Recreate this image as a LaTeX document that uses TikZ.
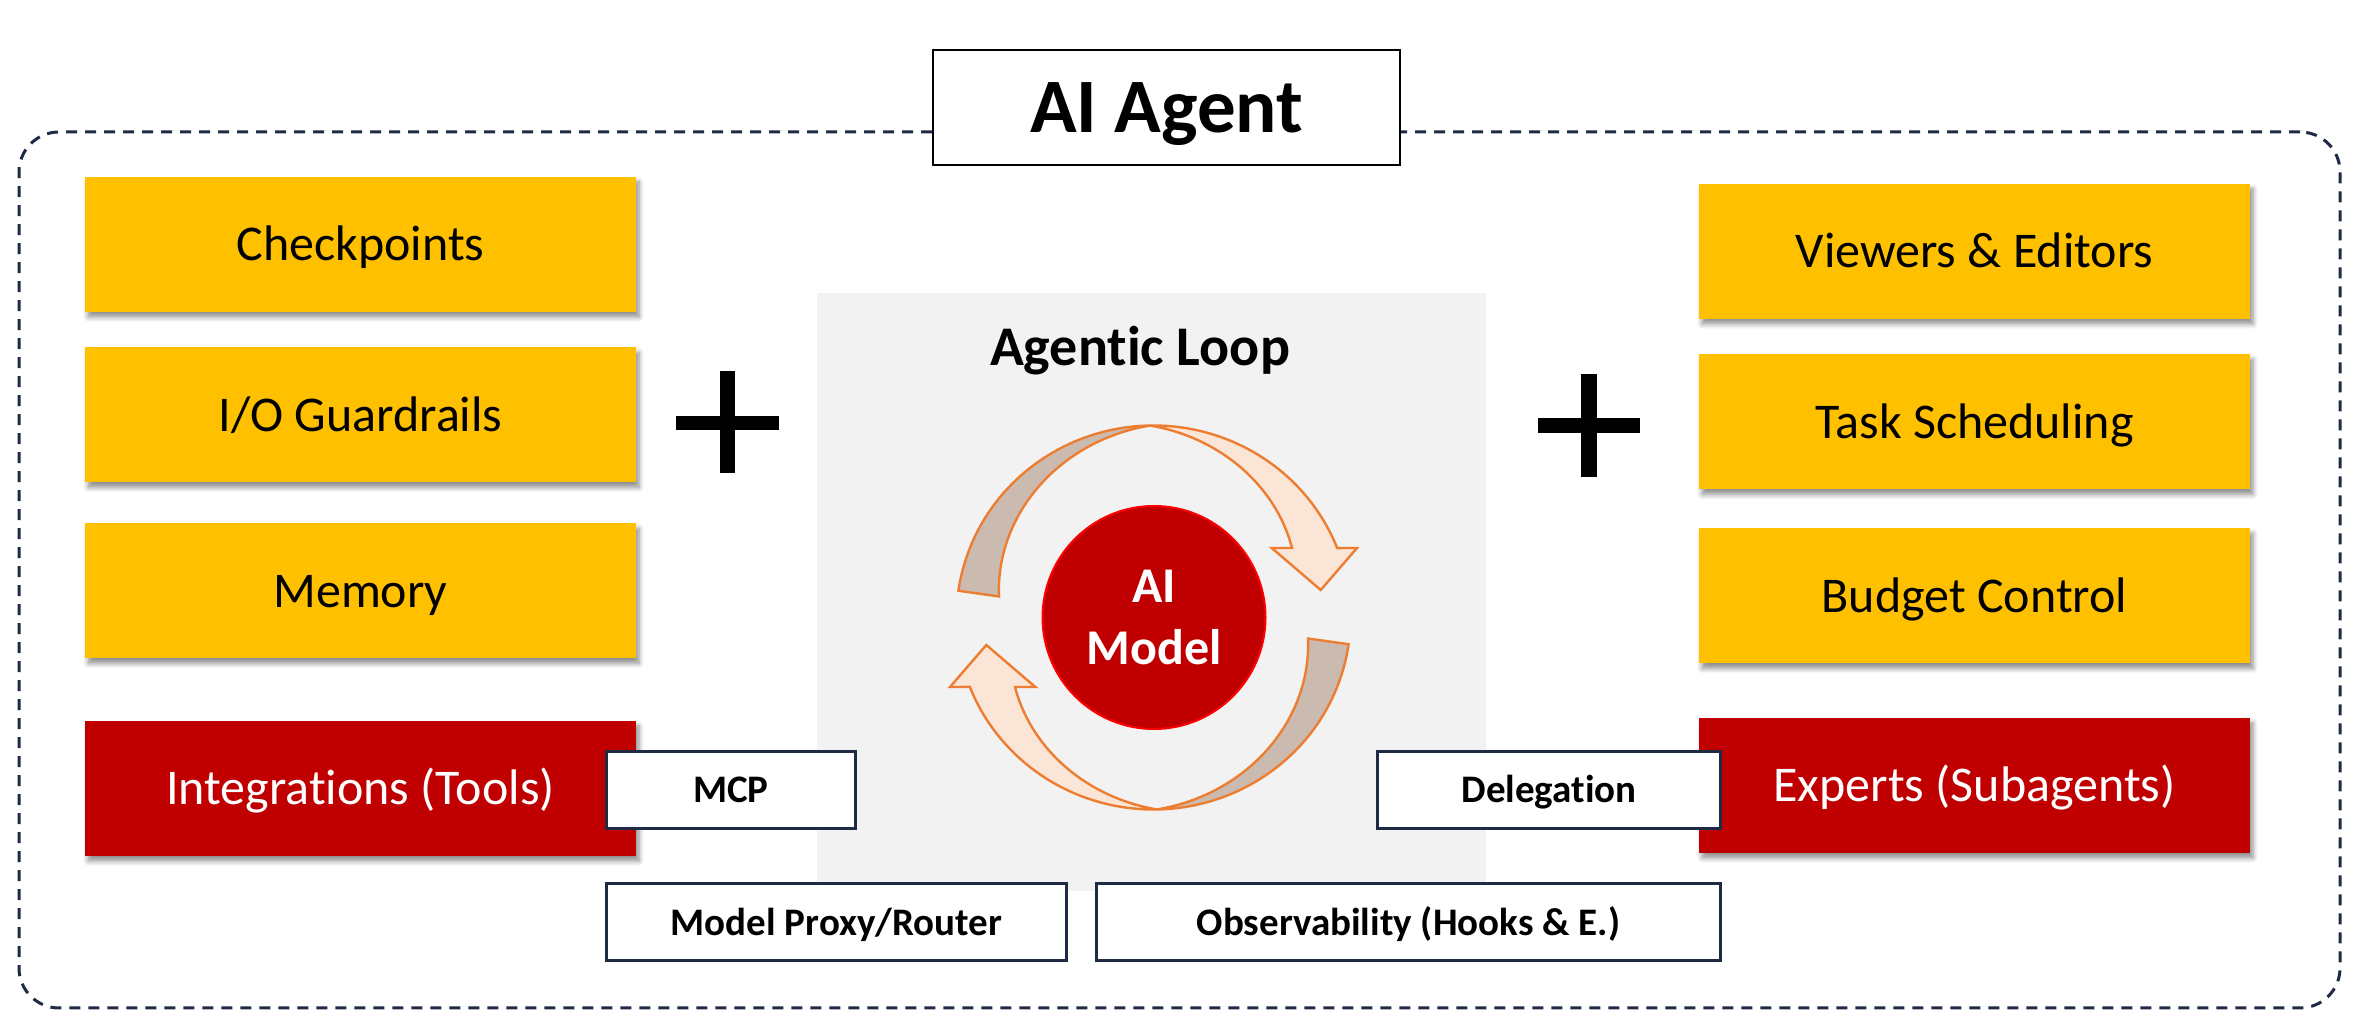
\documentclass[tikz,border=0pt]{standalone}
\usepackage{fontspec}
\setmainfont{Carlito}[Ligatures={NoCommon}]
\usetikzlibrary{shadows.blur}
\definecolor{ygold}{HTML}{FFC000}
\definecolor{dred}{HTML}{C00000}
\definecolor{navy}{HTML}{1F2A44}
\definecolor{panelgray}{HTML}{F2F2F2}
\definecolor{arrowor}{HTML}{ED7D31}
\definecolor{peach}{HTML}{FBE5D6}
\definecolor{taupe}{HTML}{CBBAAF}
\begin{document}
\begin{tikzpicture}[x=1pt,y=1pt,
  compbox/.style={minimum width=551pt, minimum height=135pt, inner sep=0pt,
    text height=32.2pt, text depth=0pt,
    font=\fontsize{50}{60}\selectfont,
    blur shadow={shadow xshift=3pt, shadow yshift=-5pt, shadow blur steps=6,
      shadow blur radius=5pt, shadow opacity=45}},
  ybox/.style={compbox, fill=ygold, text=black},
  rbox/.style={compbox, fill=dred, text=white},
  wbox/.style={draw=navy, line width=3pt, fill=white, minimum height=77pt,
    inner sep=0pt, text height=25.1pt, text depth=0pt,
    font=\fontsize{39}{47}\selectfont\bfseries},
  ringpart/.style={draw=arrowor, line width=2.4pt},
  crossbar/.style={fill=black}
]
\useasboundingbox (0,0) rectangle (2357,1032);

% outer dashed frame
\node[draw=navy, line width=3pt, dash pattern=on 11pt off 8pt,
      rounded corners=40pt, minimum width=2321pt, minimum height=876pt,
      inner sep=0pt] (frame) at (1179.5,462) {};

% title
\node[draw=black, line width=2.5pt, fill=white, minimum width=467pt,
      minimum height=115pt, inner sep=0pt, text height=49.6pt, text depth=0pt,
      font=\fontsize{77}{90}\selectfont\bfseries] (title) at (1166.5,924.5) {AI Agent};

% central panel
\node[fill=panelgray, minimum width=669pt, minimum height=598pt, inner sep=0pt]
  (panel) at (1151.5,440) {};

% left column
\node[ybox] (cp)    at (360.5,787.5) {Checkpoints};
\node[ybox] (io)    at (360.5,617)   {I/O Guardrails};
\node[ybox] (mem)   at (360.5,441)   {Memory};
\node[rbox] (integ) at (360.5,243.5) {Integrations (Tools)};

% right column
\node[ybox] (view)    at (1974.5,780.5) {Viewers \& Editors};
\node[ybox] (task)    at (1974.5,610)   {Task Scheduling};
\node[ybox] (budget)  at (1974.5,436)   {Budget Control};
\node[rbox] (experts) at (1974.5,246.5) {Experts (Subagents)};

% plus signs
\fill[crossbar] (676,602) rectangle (779,616.3);
\fill[crossbar] (720,559.3) rectangle (735,661.3);
\fill[crossbar] (1537.7,598.7) rectangle (1640,614);
\fill[crossbar] (1581,555.3) rectangle (1596.7,658);

% agentic loop title
\node[font=\fontsize{56}{66}\selectfont\bfseries, inner sep=0pt,
      text height=36pt, text depth=0pt] (looptitle) at (1140,684) {Agentic Loop};

% circular arrows (top half, then rotated copy)
\foreach \rot in {0,180}{
  \begin{scope}[rotate around={\rot:(1153.5,414.5)}]
    \draw[ringpart, fill=taupe]
      plot[domain=172:91, samples=60, variable=\t]
        ({1153.5+197*cos(\t)},{414.5+192*sin(\t)})
      -- plot[domain=91:172, samples=60, variable=\t]
        ({1153.5+(156+41*(172-\t)/81)*cos(\t)},{414.5+(151+41*(172-\t)/81)*sin(\t)})
      -- cycle;
    \draw[ringpart, fill=peach]
      plot[domain=91:21.2, samples=60, variable=\t]
        ({1153.5+197*cos(\t)},{414.5+192*sin(\t)})
      -- (1357,484) -- (1320.7,442) -- (1271.7,484)
      -- plot[domain=27.4:91, samples=60, variable=\t]
        ({1153.5+(156+41*(\t-27.4)/63.6)*cos(\t)},{414.5+(151+41*(\t-27.4)/63.6)*sin(\t)})
      -- cycle;
  \end{scope}
}

% AI model circle
\node[circle, fill=dred, draw=red, line width=2pt, minimum size=223pt,
      inner sep=0pt, text=white, align=center,
      font=\fontsize{50}{62}\selectfont\bfseries] (model) at (1154,414.5) {AI\\Model};

% white label boxes
\node[wbox, minimum width=249pt] (mcp)   at (731,242)    {MCP};
\node[wbox, minimum width=460pt] (proxy) at (836.5,109.5) {Model Proxy/Router};
\node[wbox, minimum width=343pt] (deleg) at (1549,242)   {Delegation};
\node[wbox, minimum width=624pt] (obs)   at (1408.5,109.5) {Observability (Hooks \& E.)};
\end{tikzpicture}
\end{document}
